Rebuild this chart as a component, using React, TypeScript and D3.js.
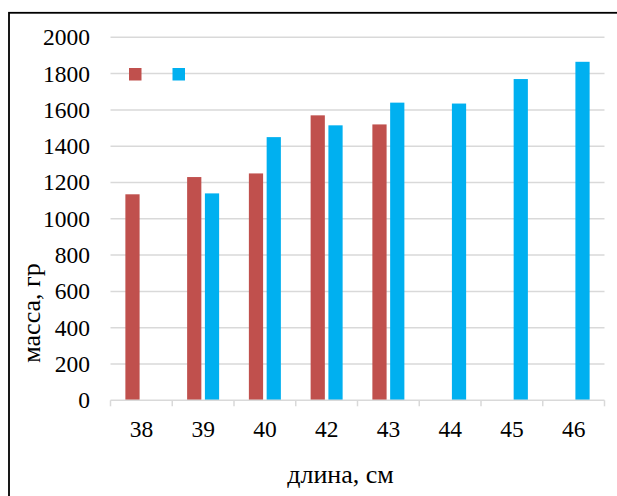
import React from "react";
import * as d3 from "d3";

// Length classes (cm) and mean mass (g) for the two samples
const categories = ["38", "39", "40", "42", "43", "44", "45", "46"];
const seriesNames = ["s1", "s2"];
const massRed: (number | null)[] = [1135, 1230, 1250, 1570, 1520, null, null, null];
const massBlue: (number | null)[] = [null, 1140, 1450, 1515, 1640, 1635, 1770, 1865];
const yTicks = [0, 200, 400, 600, 800, 1000, 1200, 1400, 1600, 1800, 2000];
const colors = ["#C0504D", "#00B0F0"];

const W = 617;
const H = 496;
const plot = { left: 110.5, right: 604.5, top: 37.3, bottom: 400.3 };
const FONT = "Liberation Serif";

export default function App() {
  const x0 = d3.scaleBand<string>().domain(categories).range([plot.left, plot.right]);
  const groupW = 32;
  const x1 = d3.scaleBand<string>().domain(seriesNames).range([0, groupW]).paddingInner(0.2);
  const y = d3.scaleLinear().domain([0, 2000]).range([plot.bottom, plot.top]);
  const series = [massRed, massBlue];
  const boundaries = categories.map((c) => x0(c)!).concat([plot.right]);
  const textStyle = { fontFamily: FONT };

  return (
    <svg width={W} height={H} style={{ position: "fixed", left: 0, top: 0, background: "#fff" }}>
      <rect x={0} y={0} width={W} height={H} fill="#fff" />
      {/* chart frame */}
      <rect x={9} y={12.8} width={W + 20} height={H + 20} fill="none" stroke="#000" strokeWidth={1.8} />

      {/* gridlines */}
      {yTicks.slice(1).map((t) => (
        <line key={t} x1={plot.left} x2={plot.right} y1={y(t)} y2={y(t)} stroke="#d9d9d9" strokeWidth={1.5} />
      ))}

      {/* y tick labels */}
      {yTicks.map((t) => (
        <text key={t} x={90} y={y(t)} dy="0.34em" textAnchor="end" fontSize={23.5} fill="#000" style={textStyle}>
          {t}
        </text>
      ))}

      {/* bars */}
      {series.map((vals, si) =>
        vals.map((v, ci) =>
          v == null ? null : (
            <rect
              key={`${si}-${ci}`}
              x={x0(categories[ci])! + (x0.bandwidth() - groupW) / 2 + x1(seriesNames[si])!}
              y={y(v)}
              width={x1.bandwidth()}
              height={y(0) - y(v)}
              fill={colors[si]}
            />
          )
        )
      )}

      {/* category axis */}
      <line x1={plot.left} x2={plot.right} y1={plot.bottom} y2={plot.bottom} stroke="#d9d9d9" strokeWidth={1.5} />
      {boundaries.map((bx, i) => (
        <line key={i} x1={bx} x2={bx} y1={plot.bottom} y2={plot.bottom + 6} stroke="#d9d9d9" strokeWidth={1.5} />
      ))}
      {categories.map((c) => (
        <text key={c} x={x0(c)! + x0.bandwidth() / 2} y={437} textAnchor="middle" fontSize={23.5} fill="#000" style={textStyle}>
          {c}
        </text>
      ))}

      {/* legend markers */}
      {colors.map((c, i) => (
        <rect key={c} x={129 + i * 43.5} y={68} width={12.5} height={12.5} fill={c} />
      ))}

      {/* axis titles */}
      <text x={340.5} y={483} textAnchor="middle" fontSize={26} fill="#000" style={textStyle}>
        длина, см
      </text>
      <text
        transform={`translate(39.5, 313) rotate(-90)`}
        textAnchor="middle"
        fontSize={26}
        fill="#000"
        style={textStyle}
      >
        масса, гр
      </text>
    </svg>
  );
}
